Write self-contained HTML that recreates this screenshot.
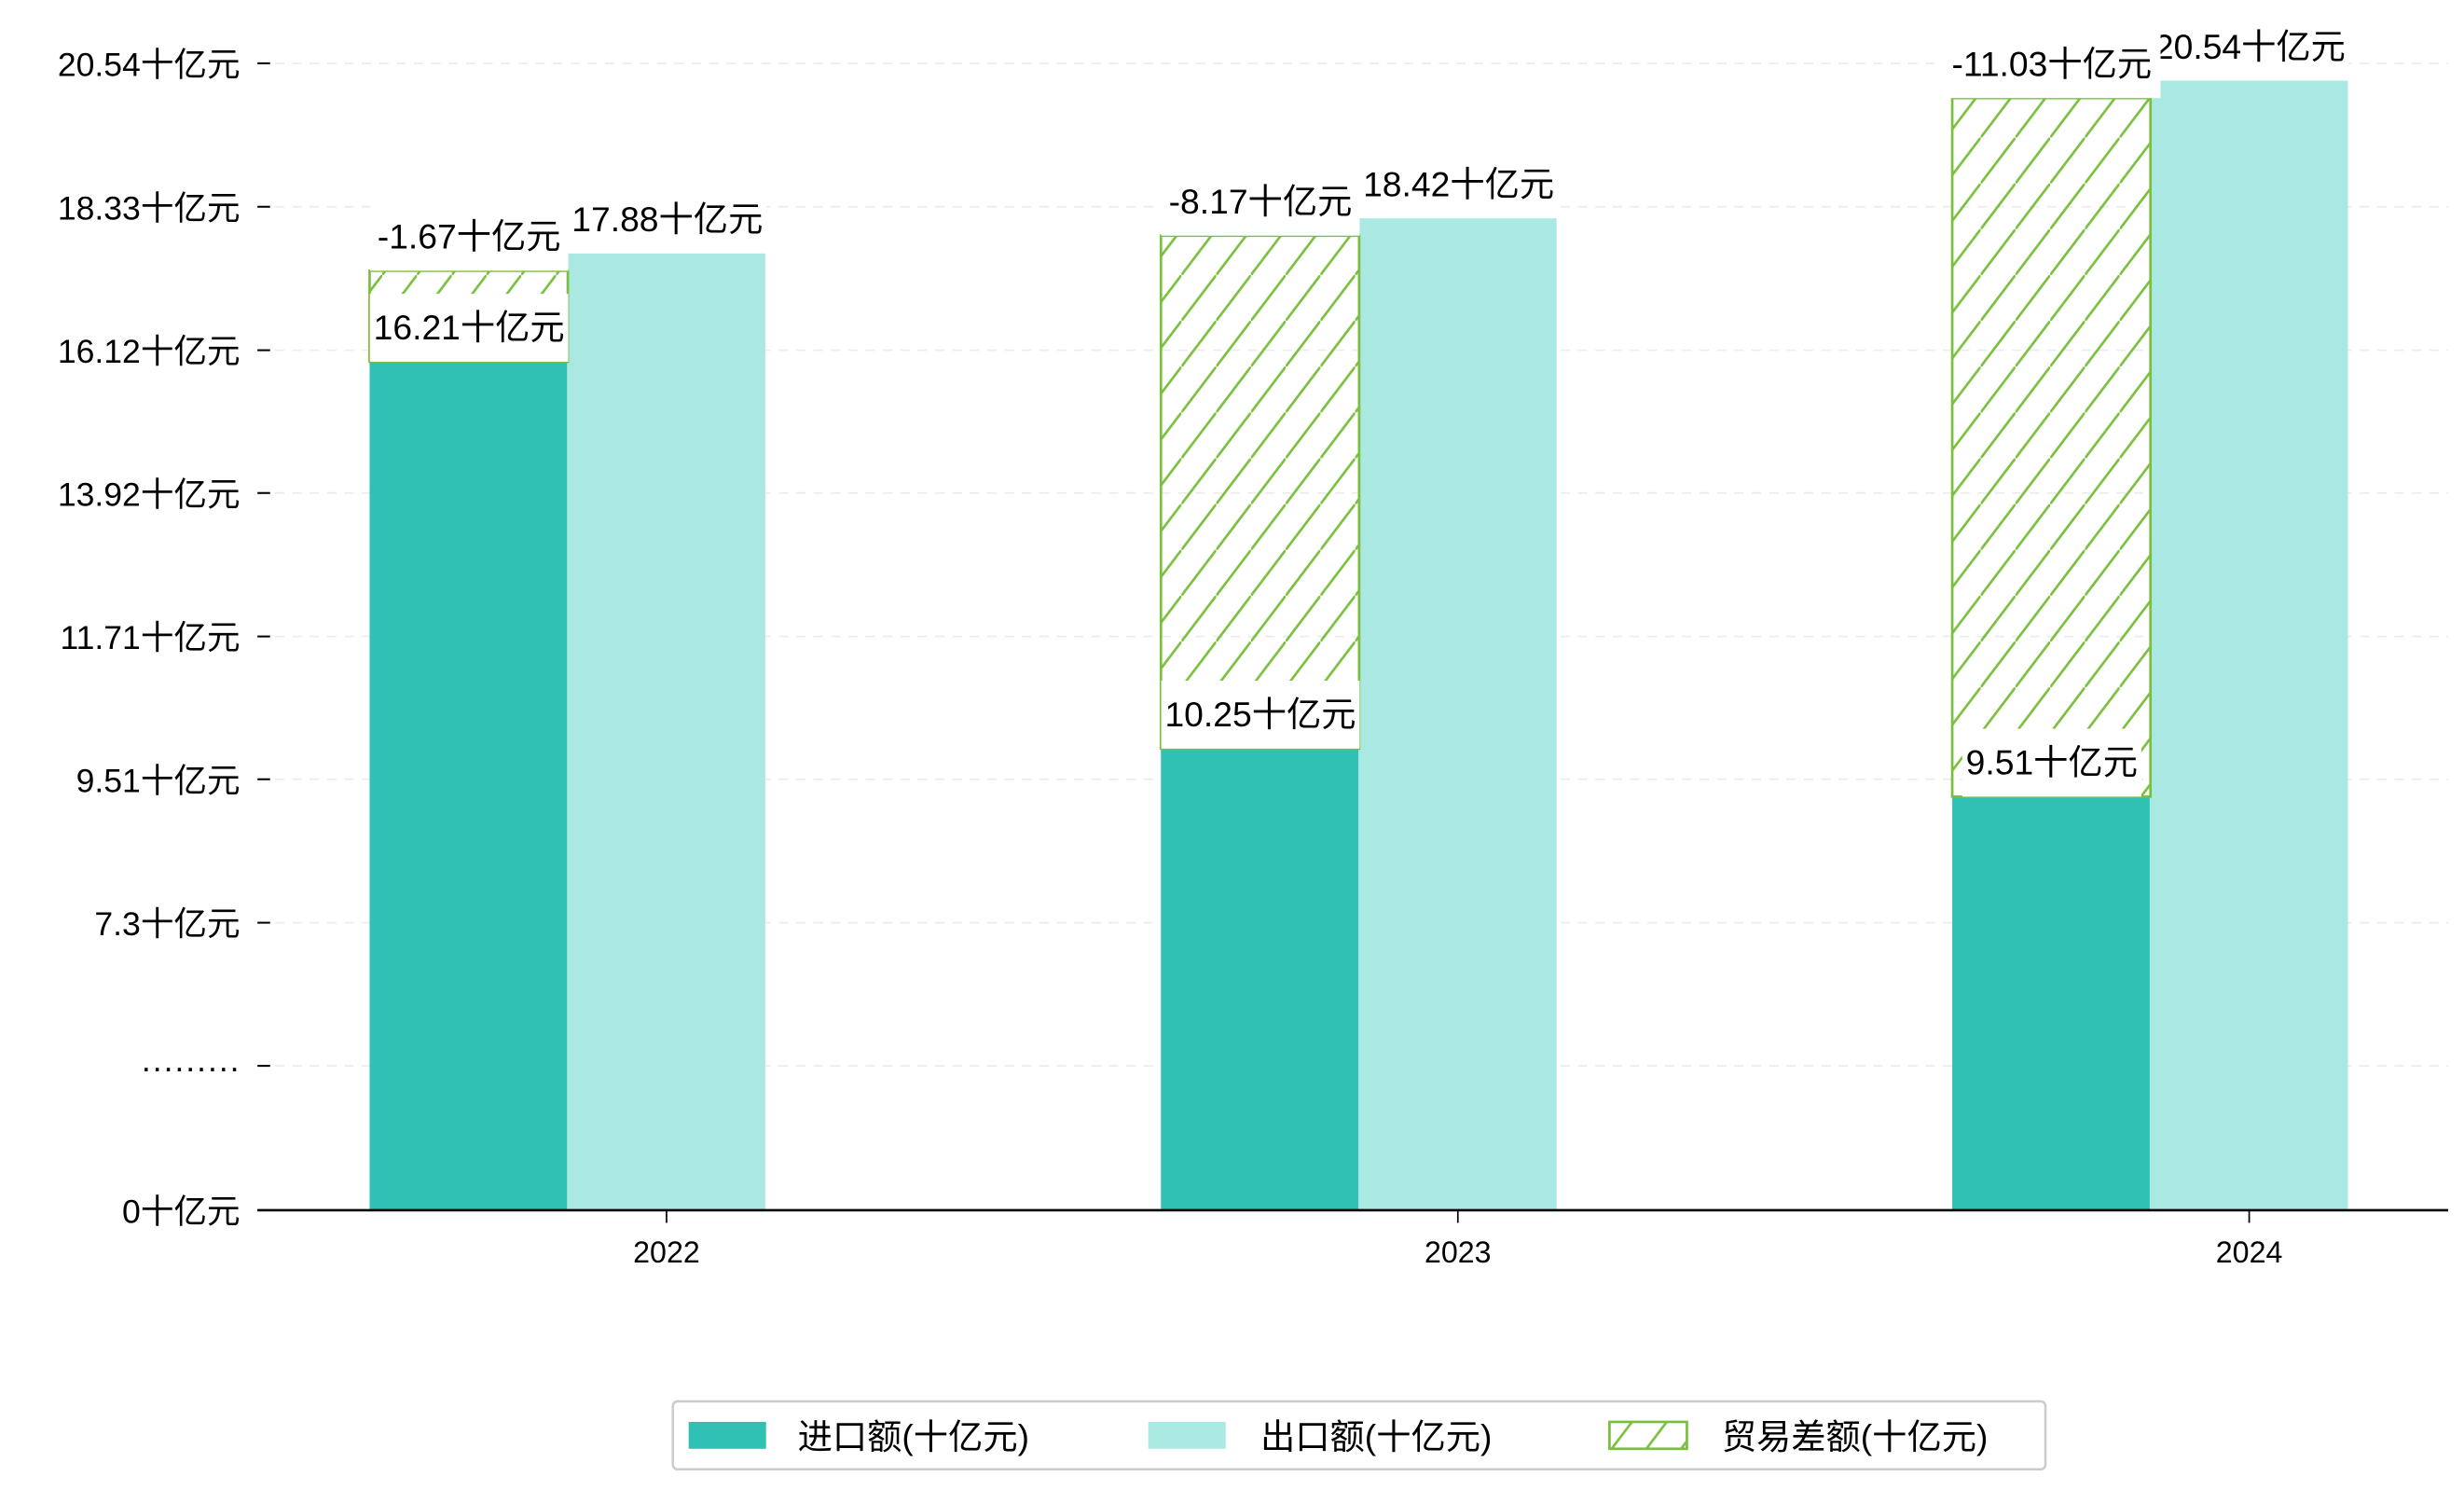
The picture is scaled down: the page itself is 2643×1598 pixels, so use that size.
<!DOCTYPE html>
<html><head><meta charset="utf-8"><style>
html,body{margin:0;padding:0;background:#fff;}
svg{display:block;font-family:"Liberation Sans","WenQuanYi Zen Hei","Noto Sans CJK SC",sans-serif;}
</style></head><body>
<svg id="chart" width="2643" height="1598" viewBox="0 0 1560 943" xmlns="http://www.w3.org/2000/svg">
<defs>
<pattern id="hatch" patternUnits="userSpaceOnUse" width="22" height="29">
<line x1="-2" y1="31.6" x2="24" y2="-2.6" stroke="#7bbf3f" stroke-width="1.6"/>
</pattern>
</defs>
<g id="grid"></g>
<g id="yaxis"></g>
<g id="bars"></g>
<g id="labels"></g>
<line x1="163" y1="766" x2="1550" y2="766" stroke="#000" stroke-width="1.5"/>
<g id="xaxis"></g>
<g>
<rect x="426" y="887" width="869" height="43" rx="3" fill="#fff" stroke="#ccc" stroke-width="1.5"/>
<g>
<rect x="436" y="900" width="49" height="17" fill="#30c0b4"/>
<text x="505" y="917" font-size="22">进口额(十亿元)</text></g>
<g>
<rect x="727" y="900" width="49" height="17" fill="#aae8e2"/>
<text x="798" y="917" font-size="22">出口额(十亿元)</text></g>
<g>
<rect x="1019" y="900" width="49" height="17" fill="url(#hatch)" stroke="#7bbf3f" stroke-width="1.6"/>
<text x="1090" y="917" font-size="22">贸易差额(十亿元)</text></g>
</g>
</svg>
<script>
const categories = ["2022", "2023", "2024"];
const imports = [16.21, 10.25, 9.51];
const exports = [17.88, 18.42, 20.54];
const balance = [-1.67, -8.17, -11.03];
const yTicks = [7.3, 9.51, 11.71, 13.92, 16.12, 18.33, 20.54];
const yTickLabels = ["7.3十亿元", "9.51十亿元", "11.71十亿元", "13.92十亿元", "16.12十亿元", "18.33十亿元", "20.54十亿元"];

const NS = "http://www.w3.org/2000/svg";
const base = 766;
function yScale(v){ return 595 - (v - 7.3) * 41.09; }
function xCenter(i){ return 422 + i * 501; }
function mk(tag, attrs, parent, text){
  const e = document.createElementNS(NS, tag);
  for (const k in attrs) e.setAttribute(k, attrs[k]);
  if (text !== undefined) e.textContent = text;
  parent.appendChild(e);
  return e;
}
const grid = document.getElementById('grid');
const yaxis = document.getElementById('yaxis');
const bars = document.getElementById('bars');
const labels = document.getElementById('labels');
const xaxis = document.getElementById('xaxis');

function addTick(y, label){
  const g = mk('line', {x1:163, x2:1550, y1:y, y2:y, stroke:'#ececec', 'stroke-width':1, 'stroke-dasharray':'6,5'}, grid);
  
  
  const t = mk('line', {x1:163, x2:171, y1:y, y2:y, stroke:'#000', 'stroke-width':1.2}, yaxis);
  
  
  const tx = mk('text', {x:152, y:y+8, 'font-size':21, 'text-anchor':'end'}, yaxis, label);
  
  
}
yTicks.forEach((v, i) => addTick(yScale(v) - 11, yTickLabels[i]));
addTick(yScale(7.3 - 2.205) - 11, "·········");
addTick(base, "0十亿元");

function valLabel(cx, yBottom, text, name){
  const g = mk('g', {}, labels);
  
  
  const w = text.length * 12.2 + 28;
  mk('rect', {x:cx - w/2, y:yBottom - 43, width:w, height:43, fill:'#fff'}, g);
  mk('text', {x:cx, y:yBottom - 14, 'font-size':22, 'text-anchor':'middle'}, g, text);
}

categories.forEach((c, i) => {
  const cx = xCenter(i);
  const yi = yScale(imports[i]);
  const ye = yScale(exports[i]);
  const r1 = mk('rect', {x:cx - 188, y:yi, width:125.5, height:base - yi, fill:'#30c0b4'}, bars);
  
  
  const r2 = mk('rect', {x:cx - 63, y:ye, width:125.5, height:base - ye, fill:'#aae8e2'}, bars);
  
  
  const yTop = yScale(imports[i] - balance[i]) + 11;
  const r3 = mk('rect', {x:cx - 188, y:yTop, width:125.5, height:yi - yTop, fill:'url(#hatch)', stroke:'#7bbf3f', 'stroke-width':1.6}, bars);
  
  

  valLabel(cx + 0.5, ye, exports[i].toFixed(2) + "十亿元", 'export-label-' + c);
  valLabel(cx - 125, yi, imports[i].toFixed(2) + "十亿元", 'import-label-' + c);
  valLabel(cx - 125, yTop, balance[i].toFixed(2) + "十亿元", 'balance-label-' + c);

  const tk = mk('line', {x1:cx, x2:cx, y1:base, y2:base + 8, stroke:'#000', 'stroke-width':1}, xaxis);
  
  
  const tl = mk('text', {x:cx, y:799, 'font-size':19, 'text-anchor':'middle'}, xaxis, c);
  
  
});
</script>
</body></html>
